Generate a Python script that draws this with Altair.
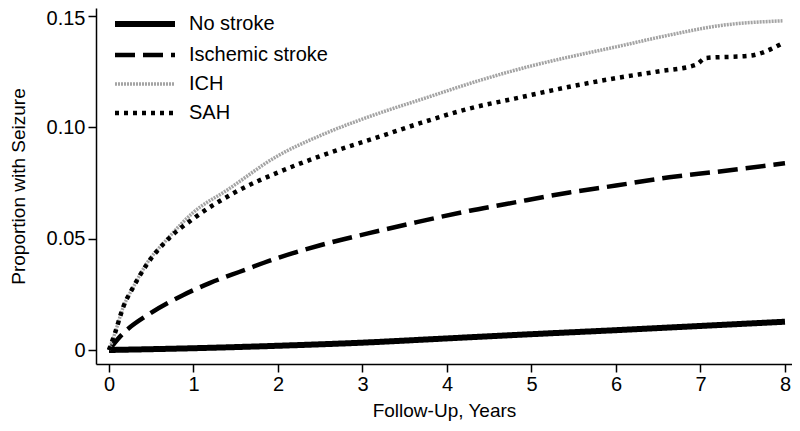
import altair as alt
import pandas as pd

groups = ["No stroke", "Ischemic stroke", "ICH", "SAH"]

t_none = [0, 1, 2, 3, 4, 5, 6, 7, 8]
v_none = [0, 0.0008, 0.0019, 0.0033, 0.0052, 0.0071, 0.0089, 0.0108, 0.0127]

t_isch = [0, 0.13, 0.49, 0.88, 1.19, 1.54, 2.02, 2.5, 3.2, 3.6, 4.27, 4.7, 5.45, 6.0, 6.63, 7.2, 8]
v_isch = [0, 0.0060, 0.0165, 0.0247, 0.0300, 0.0350, 0.0416, 0.0470, 0.0535, 0.0570, 0.0625,
          0.0655, 0.0707, 0.0738, 0.0775, 0.0800, 0.0838]

t_ich = [0, 0.07, 0.17, 0.29, 0.45, 0.68, 1, 1.4, 2, 2.5, 3.2, 3.7, 4.39, 5, 5.45, 6.0, 6.63, 7.22, 7.97]
v_ich = [0, 0.0075, 0.0194, 0.0284, 0.0390, 0.0494, 0.0618, 0.0718, 0.0872, 0.0962, 0.1063, 0.1125,
         0.1210, 0.1275, 0.1315, 0.1360, 0.1413, 0.1455, 0.1477]

t_sah = [0, 0.07, 0.17, 0.29, 0.45, 0.68, 1, 1.47, 2.02, 2.5, 3.2, 3.7, 4.27, 4.8, 5.45, 6.0, 6.5, 6.95, 7.06, 7.58, 7.97]
v_sah = [0, 0.0075, 0.0194, 0.0284, 0.0385, 0.0490, 0.0590, 0.0703, 0.0800, 0.0870, 0.0957, 0.1020,
         0.1084, 0.1128, 0.1181, 0.1220, 0.1250, 0.1280, 0.1310, 0.1320, 0.1376]

series = {
    "No stroke": (t_none, v_none),
    "Ischemic stroke": (t_isch, v_isch),
    "ICH": (t_ich, v_ich),
    "SAH": (t_sah, v_sah),
}

rows = []
for g, (ts, vs) in series.items():
    for t, v in zip(ts, vs):
        rows.append({"group": g, "t": t, "v": v})
df = pd.DataFrame(rows)

font = "Liberation Sans"

chart = alt.Chart(df).mark_line(interpolate="monotone", strokeCap="butt").encode(
    x=alt.X("t:Q", title="Follow-Up, Years",
            scale=alt.Scale(domain=[-0.1538, 8.083], nice=False, zero=False),
            axis=alt.Axis(values=[0, 1, 2, 3, 4, 5, 6, 7, 8], grid=False, tickSize=8,
                          labelPadding=2, titlePadding=7, format="d")),
    y=alt.Y("v:Q", title="Proportion with Seizure",
            scale=alt.Scale(domain=[-0.00628, 0.15345], nice=False, zero=False),
            axis=alt.Axis(values=[0, 0.05, 0.10, 0.15], grid=False, tickSize=8,
                          labelPadding=3, titlePadding=18,
                          labelOffset={"condition": {"test": "datum.value > 0.14", "value": 3}, "value": 0},
                          labelExpr="datum.value == 0 ? '0' : format(datum.value, '.2f')")),
    color=alt.Color("group:N", title=None,
                    scale=alt.Scale(domain=groups, range=["black", "black", "#a4a4a4", "black"]),
                    legend=alt.Legend(orient="none", legendX=36, legendY=3,
                                      symbolType="M-3,0H3", symbolSize=400,
                                      labelOffset=31, labelFontSize=20, labelFont=font,
                                      rowPadding=6.5, padding=0, labelColor="black",
                                      symbolFillColor="transparent")),
    strokeDash=alt.StrokeDash("group:N", title=None,
                              scale=alt.Scale(domain=groups,
                                              range=[[1, 0], [20, 8], [2, 1], [4, 5]])),
    strokeWidth=alt.StrokeWidth("group:N", title=None,
                                scale=alt.Scale(type="ordinal", domain=groups,
                                                range=[6, 4.5, 3.5, 4.5])),
    order=alt.Order("t:Q"),
).properties(
    width=696,
    height=356,
    autosize=alt.AutoSizeParams(type="none"),
    padding={"left": 88, "top": 0, "right": 0, "bottom": 59},
).configure_view(
    stroke=None
).configure_axis(
    domainColor="black", domainWidth=1.5, tickColor="black", tickWidth=1.5,
    labelFont=font, labelFontSize=20, labelColor="black",
    titleFont=font, titleFontSize=19, titleColor="black", titleFontWeight="normal",
).configure_legend(
    labelFont=font,
)

chart.save("out.html", embed_options={"renderer": "svg", "actions": False})
